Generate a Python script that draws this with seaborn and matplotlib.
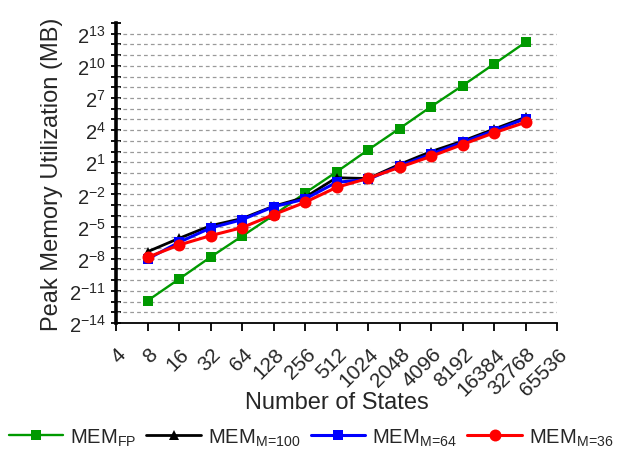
import numpy as np
import pandas as pd
import matplotlib
matplotlib.use("Agg")
import matplotlib.pyplot as plt
import matplotlib.transforms as mtransforms
from matplotlib.ticker import FixedLocator, NullFormatter
import seaborn as sns

# ---------------- data (peak memory in MB) ----------------
states = [8, 16, 32, 64, 128, 256, 512, 1024, 2048, 4096, 8192, 16384, 32768]
mem_fp = [0.000258, 0.001047, 0.004334, 0.016747, 0.06471, 0.2736, 1.0718,
          4.438, 17.75, 73.01, 284.1, 1152.1, 4705.2]
mem_m100 = [0.006130, 0.014579, 0.03303, 0.05256, 0.11663, 0.20733, 0.7371,
            0.6974, 1.7411, 4.0, 7.89, 17.15, 36.76]
mem_m64 = [0.003826, 0.011281, 0.028556, 0.048697, 0.11266, 0.18557, 0.54715,
           0.65975, 1.5692, 3.4105, 7.260, 15.455, 33.59]
mem_m36 = [0.004275, 0.009486, 0.017338, 0.029158, 0.06745, 0.14969, 0.3950,
           0.7071, 1.4439, 2.928, 6.320, 13.454, 26.54]

series_labels = [r"MEM$_{\mathrm{FP}}$", r"MEM$_{\mathrm{M}\!=\!\mathrm{100}}$",
                 r"MEM$_{\mathrm{M}\!=\!\mathrm{64}}$", r"MEM$_{\mathrm{M}\!=\!\mathrm{36}}$"]
x_tick_values = [4, 8, 16, 32, 64, 128, 256, 512, 1024, 2048, 4096, 8192,
                 16384, 32768, 65536]
x_tick_labels = [str(v) for v in x_tick_values]
y_major_exponents = [-14, -11, -8, -5, -2, 1, 4, 7, 10, 13]
x_label = "Number of States"
y_label = "Peak Memory Utilization (MB)"

# ---------------- styling ----------------
sns.set_style("white")
plt.rcParams["font.family"] = ["Liberation Sans", "DejaVu Sans"]
plt.rcParams["mathtext.fontset"] = "custom"
plt.rcParams["mathtext.rm"] = "Liberation Sans"
plt.rcParams["mathtext.it"] = "Liberation Sans:italic"
plt.rcParams["mathtext.bf"] = "Liberation Sans:bold"

fig = plt.figure(figsize=(6.25, 4.56), dpi=100)
ax = fig.add_axes([116 / 625, 1 - 324 / 456, (557 - 116) / 625, 300 / 456])

styles = [
    dict(color="#009900", marker="s", markersize=7.8, linewidth=1.7, zorder=3),
    dict(color="#000000", marker="^", markersize=7.5, linewidth=2.0, zorder=4),
    dict(color="#0000FF", marker="s", markersize=7.2, linewidth=2.2, zorder=5),
    dict(color="#FF0000", marker="o", markersize=8.6, linewidth=2.2, zorder=6),
]
for vals, lab, st in zip([mem_fp, mem_m100, mem_m64, mem_m36], series_labels, styles):
    df = pd.DataFrame({"states": states, "mem": vals})
    sns.lineplot(data=df, x="states", y="mem", ax=ax, label=lab,
                 color=st["color"], marker=st["marker"], markersize=st["markersize"],
                 linewidth=st["linewidth"], markeredgewidth=0, zorder=st["zorder"],
                 legend=False)

ax.set_xscale("log", base=2)
ax.set_yscale("log", base=2)
ax.set_xlim(4, 65536)
ax.set_ylim(2.0 ** -14, 2.0 ** 14)

# y ticks
ax.yaxis.set_major_locator(FixedLocator([2.0 ** e for e in y_major_exponents]))
ax.set_yticklabels([r"$\mathrm{2^{%d}}$" % e for e in y_major_exponents], fontsize=14.5)
ax.yaxis.set_minor_locator(FixedLocator([2.0 ** e for e in range(-14, 15)]))
ax.yaxis.set_minor_formatter(NullFormatter())
ax.tick_params(axis="y", which="both", direction="inout", length=7, width=1.3,
               color="black", pad=4, left=True)

# x ticks
ax.xaxis.set_major_locator(FixedLocator(x_tick_values))
ax.xaxis.set_minor_locator(FixedLocator([]))
ax.tick_params(axis="x", which="major", direction="out", length=6, width=1.3,
               color="black", pad=9, bottom=True)
ax.set_xticklabels(x_tick_labels, rotation=45, ha="right", va="top", fontsize=15)
offset = mtransforms.ScaledTranslation(14 / 100, 0, fig.dpi_scale_trans)
for lbl in ax.get_xticklabels():
    lbl.set_transform(lbl.get_transform() + offset)

# grid
for e in range(-13, 14):
    ax.axhline(2.0 ** e, color="#9a9a9a", linewidth=0.9, linestyle=(0, (3, 2.5)), zorder=1)

# spines
for s in ["top", "right"]:
    ax.spines[s].set_visible(False)
ax.spines["left"].set_linewidth(2.6)
ax.spines["left"].set_color("black")
ax.spines["bottom"].set_linewidth(1.3)
ax.spines["bottom"].set_color("black")

ax.set_xlabel(x_label, fontsize=17, labelpad=-5)
ax.set_ylabel(y_label, fontsize=17, labelpad=4)

handles, labels = ax.get_legend_handles_labels()
fig.legend(handles, labels, loc="center", bbox_to_anchor=(0.498, 1 - 438 / 456),
           ncol=4, frameon=False, fontsize=14.5, handlelength=2.7,
           handletextpad=0.35, columnspacing=0.5, borderaxespad=0, borderpad=0)

fig.savefig("out.png", dpi=100)
